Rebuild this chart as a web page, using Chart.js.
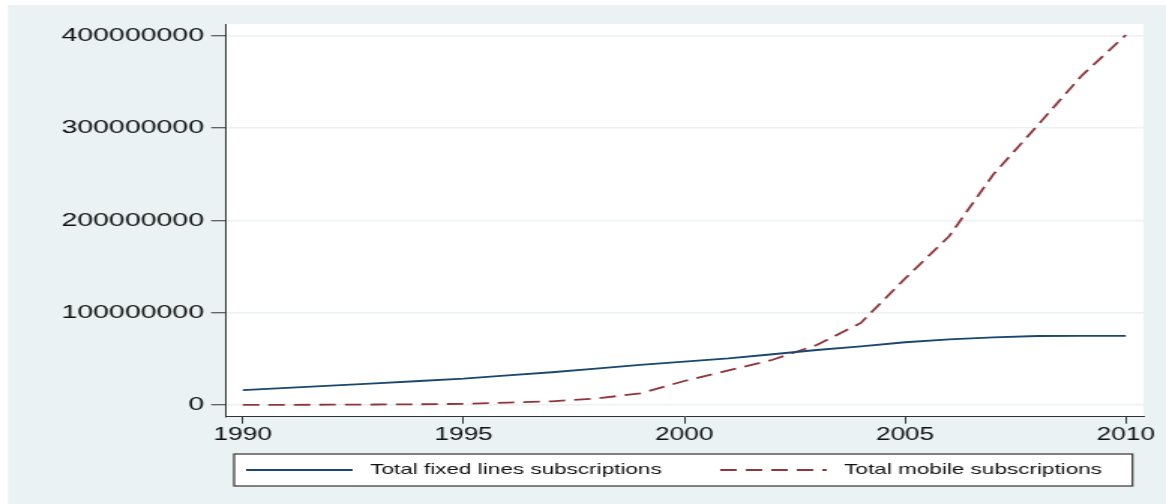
<!DOCTYPE html>
<html>
<head>
<meta charset="utf-8">
<title>Fixed lines and mobile subscriptions</title>
<script src="https://cdn.jsdelivr.net/npm/chart.js@4.4.0/dist/chart.umd.min.js"></script>
<style>
  html, body { margin: 0; padding: 0; background: #fff; overflow: hidden; }
  /* the source graph is stretched sideways, so the canvas is too */
  #chart { position: absolute; left: 0; top: 0; transform: scaleX(1.5006); transform-origin: 0 0; }
</style>
</head>
<body>
<canvas id="chart" width="777" height="504"></canvas>
<script>
var years = [1990, 1991, 1992, 1993, 1994, 1995, 1996, 1997, 1998, 1999, 2000,
             2001, 2002, 2003, 2004, 2005, 2006, 2007, 2008, 2009, 2010];

var fixedLines = [16000000, 18500000, 21000000, 23500000, 26000000, 28500000, 32000000,
                  35500000, 39500000, 43500000, 47000000, 50600000, 55000000, 59600000,
                  63500000, 68000000, 71200000, 73400000, 74800000, 75000000, 75000000];

var mobile = [100000, 200000, 300000, 500000, 800000, 1200000, 2500000, 4000000,
              7000000, 12500000, 26000000, 37500000, 49000000, 65000000, 89000000,
              137000000, 183000000, 250000000, 303000000, 357000000, 401000000];

var seriesNames = ['Total fixed lines subscriptions', 'Total mobile subscriptions'];
var xTicks = [1990, 1995, 2000, 2005, 2010];
var yTicks = [0, 100000000, 200000000, 300000000, 400000000];

var LEGEND_PAD = 14;
var LEGEND_FONT = 15;

Chart.defaults.font.family = "'Liberation Sans', Arial, sans-serif";
Chart.defaults.color = '#111';

// light blue frame, white plot region and the boxed legend
var backdrop = {
	id: 'backdrop',
	beforeDraw: function (chart) {
		var ctx = chart.ctx;
		var a = chart.chartArea;
		var lg = chart.legend;
		ctx.save();
		ctx.fillStyle = '#ffffff';
		ctx.fillRect(0, 0, chart.width, chart.height);
		ctx.fillStyle = '#eaf2f3';
		ctx.fillRect(5.3, 5, chart.width, chart.height);
		ctx.fillStyle = '#ffffff';
		ctx.fillRect(a.left, a.top, a.right - a.left, a.bottom - a.top);

		var cy = lg.top + LEGEND_PAD + LEGEND_FONT / 2;
		var bx = lg.left + 6, bw = lg.width - 13.3;
		ctx.fillRect(bx, cy - 16, bw, 32);
		ctx.strokeStyle = '#333';
		ctx.lineWidth = 1.2;
		ctx.strokeRect(bx, cy - 16, bw, 32);
		ctx.restore();
	}
};

// stata puts the two keys in even columns; spaces stand in for that spacing.
// line style comes from the datasets (point style would drop the dash)
function legendLabels(chart) {
	var items = Chart.defaults.plugins.legend.labels.generateLabels(chart);
	items.forEach(function (it, i) {
		var ds = chart.data.datasets[i];
		it.strokeStyle = ds.borderColor;
		it.lineWidth = ds.borderWidth;
		it.lineDash = ds.borderDash || [];
	});
	items[0].text = ' ' + items[0].text + '      ';
	items[1].text = ' ' + items[1].text;
	return items;
}

var ctx = document.getElementById('chart').getContext('2d');
var chart = new Chart(ctx, {
	type: 'line',
	data: {
		labels: years,
		datasets: [
			{
				label: seriesNames[0],
				data: fixedLines,
				borderColor: '#1a476f',
				borderWidth: 1.8,
				pointRadius: 0,
				tension: 0,
				fill: false
			},
			{
				label: seriesNames[1],
				data: mobile,
				borderColor: '#90353b',
				borderWidth: 1.8,
				borderDash: [11, 6],
				pointRadius: 0,
				tension: 0,
				fill: false
			}
		]
	},
	options: {
		responsive: false,
		animation: false,
		devicePixelRatio: 1,
		events: [],
		layout: { padding: { top: 24, right: 15, bottom: 16.5, left: 0 } },
		plugins: {
			legend: {
				position: 'bottom',
				align: 'start',
				fullSize: false,
				labels: {
					usePointStyle: true,
					pointStyle: 'line',
					pointStyleWidth: 71,
					padding: LEGEND_PAD,
					color: '#111',
					font: { size: LEGEND_FONT },
					generateLabels: legendLabels
				}
			},
			tooltip: { enabled: false }
		},
		scales: {
			x: {
				type: 'linear',
				min: 1989.6,
				max: 2010.4,
				afterBuildTicks: function (s) {
					s.ticks = xTicks.map(function (v) { return { value: v }; });
				},
				afterFit: function (s) { s.height = 31.8; },
				grid: { drawOnChartArea: false, tickLength: 7, tickColor: '#333', tickWidth: 1 },
				border: { color: '#333', width: 1 },
				ticks: {
					padding: 1,
					maxRotation: 0,
					autoSkip: false,
					color: '#111',
					font: { size: 17.5 },
					callback: function (v) { return String(v); }
				}
			},
			y: {
				type: 'linear',
				min: -12700000,
				max: 413000000,
				afterBuildTicks: function (s) {
					s.ticks = yTicks.map(function (v) { return { value: v }; });
				},
				afterFit: function (s) { s.width = 150; },
				grid: { color: '#eaf2f3', lineWidth: 1.5, tickLength: 9.3, tickColor: '#333', tickWidth: 1 },
				border: { color: '#333', width: 1 },
				ticks: {
					padding: 4.7,
					color: '#111',
					font: { size: 19 },
					callback: function (v) { return String(v); }
				}
			}
		}
	},
	plugins: [backdrop]
});
</script>
</body>
</html>
